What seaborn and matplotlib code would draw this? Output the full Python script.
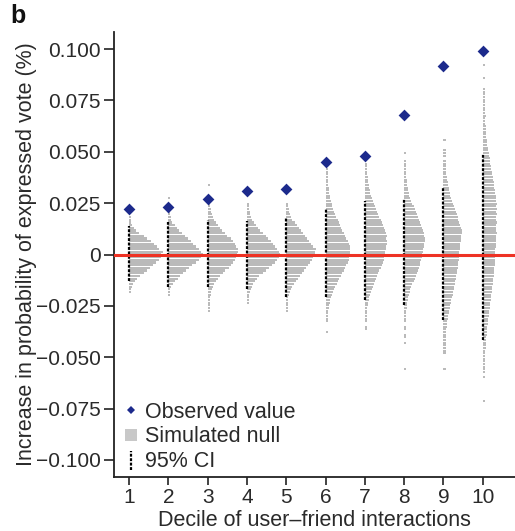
import numpy as np
import matplotlib
matplotlib.use("Agg")
import matplotlib.pyplot as plt
from matplotlib.lines import Line2D
from matplotlib.legend_handler import HandlerBase
import seaborn as sns

# ---------------- data ----------------
deciles = [1, 2, 3, 4, 5, 6, 7, 8, 9, 10]
observed = [0.022, 0.023, 0.027, 0.031, 0.032, 0.045, 0.048, 0.068, 0.092, 0.099]
ci_low = [-0.013, -0.0156, -0.016, -0.017, -0.0205, -0.0205, -0.022, -0.0245, -0.0317, -0.0414]
ci_high = [0.0137, 0.016, 0.0166, 0.0165, 0.0185, 0.022, 0.026, 0.027, 0.033, 0.0487]

null_bin = 0.0013
# histogram of simulated null: top bin centre and counts from top to bottom
null_top = [14 * 0.0013, 21 * 0.0013, 26 * 0.0013, 19 * 0.0013, 19 * 0.0013,
            33 * 0.0013, 34 * 0.0013, 38 * 0.0013, 43 * 0.0013, 71 * 0.0013]
null_d1 = [1, 1, 1, 2, 4, 6, 9, 13, 16, 20, 23, 26, 28, 31, 30,
           30, 28, 25, 22, 19, 16, 13, 10, 7, 5, 3, 2, 1, 1]
null_d2 = [1, 0, 0, 1, 1, 1, 1, 2, 2, 3, 5, 7, 9, 12, 15, 18, 21, 23, 25, 28, 30, 32,
           30, 28, 25, 22, 19, 16, 13, 10, 8, 5, 4, 2, 1, 1, 1]
null_d3 = [1, 0, 0, 0, 0, 1, 1, 1, 1, 2, 2, 3, 4, 5, 7, 9, 11, 13, 16, 18, 21, 23, 25, 26, 28, 28, 27,
           26, 25, 23, 21, 19, 16, 14, 11, 9, 7, 5, 4, 3, 2, 2, 1, 1, 1, 1, 1, 1]
null_d4 = [1, 1, 1, 2, 2, 3, 4, 6, 8, 10, 12, 14, 17, 19, 22, 24, 26, 28, 30, 31,
           30, 28, 26, 23, 20, 17, 14, 11, 9, 7, 5, 4, 3, 2, 1, 1, 1, 1]
null_d5 = [1, 1, 2, 2, 3, 4, 5, 7, 9, 11, 13, 15, 17, 19, 21, 23, 25, 27, 26, 26,
           25, 24, 22, 20, 18, 16, 14, 12, 10, 8, 6, 5, 4, 3, 2, 1, 1, 1, 1, 1, 1]
null_d6 = [1, 1, 1, 1, 1, 1, 1, 1, 2, 2, 2, 3, 3, 4, 5, 5, 6, 7, 8, 9, 11, 12, 13, 14, 15, 17, 18,
           19, 20, 21, 22, 22, 22, 22,
           21, 21, 20, 19, 18, 17, 15, 14, 12, 11, 10, 8, 7, 6, 5, 4, 3, 3, 2, 2, 1, 1, 1, 1, 1,
           0, 0, 0, 1]
null_d7 = [1, 1, 1, 1, 1, 2, 2, 2, 3, 3, 4, 4, 5, 6, 7, 8, 9, 10, 11, 12, 13, 14, 15, 16, 17, 18,
           19, 20, 19, 20, 20, 19, 19, 18, 18,
           17, 17, 16, 15, 14, 13, 12, 11, 10, 9, 8, 7, 6, 5, 4, 3, 3, 2, 2, 1, 1, 1, 1, 1, 1, 0, 1, 1]
null_d8 = [1, 0, 0, 1, 1, 1, 1, 1, 1, 1, 2, 2, 2, 3, 3, 4, 4, 5, 6, 7, 8, 9, 10, 11, 12, 13, 14,
           15, 16, 17, 18, 18, 19, 19, 18, 18, 17, 17, 16,
           16, 15, 14, 14, 13, 12, 11, 10, 9, 8, 7, 6, 5, 5, 4, 3, 3, 2, 2, 2, 1, 1, 1, 1, 1, 0,
           1, 1, 0, 1, 1, 0, 1, 0, 0, 0, 0, 0, 0, 0, 0, 0, 1]
null_d9 = [1, 0, 0, 0, 1, 1, 1, 0, 1, 1, 1, 1, 1, 1, 2, 2, 3, 3, 4, 4, 5, 5, 6, 7, 8, 9, 10, 11,
           12, 13, 13, 14, 15, 16, 17, 17, 16, 16, 16, 15, 15, 15, 14, 14,
           14, 14, 13, 13, 13, 12, 12, 11, 11, 10, 10, 9, 9, 8, 8, 7, 6, 6, 5, 5, 4, 4, 3, 3,
           2, 2, 2, 1, 1, 1, 1, 1, 1, 1, 1, 1, 1, 0, 0, 0, 0, 0, 1]
null_d10 = [1, 0, 0, 0, 0, 1, 0, 0, 0, 1, 1, 1, 1, 1, 1, 1, 1, 1, 1,
            2, 1, 1, 1, 2, 2, 2, 2, 2, 3, 3, 3, 4, 4, 5, 5, 6, 6, 6, 7, 7, 8, 8, 9, 9, 10, 10, 10,
            11, 11, 12, 12, 12,
            13, 12, 13, 12, 13, 12, 12, 13, 12, 12, 12, 13, 12, 12, 12, 12, 12, 11, 11, 11,
            11, 11, 11, 11, 10, 10, 10, 10, 9, 9, 9, 8, 8, 8, 7, 7, 7, 6, 6, 6, 5, 5, 5, 4, 4, 4,
            3, 3, 3, 3, 2, 2, 2, 2, 2, 1, 1, 1, 1, 1, 1, 1, 1, 1, 0, 1, 0, 0, 0, 0, 0, 0, 0, 0, 1]
null_counts = [null_d1, null_d2, null_d3, null_d4, null_d5,
               null_d6, null_d7, null_d8, null_d9, null_d10]

xtick_labels = ["1", "2", "3", "4", "5", "6", "7", "8", "9", "10"]
ytick_values = [-0.100, -0.075, -0.050, -0.025, 0, 0.025, 0.050, 0.075, 0.100]
ytick_labels = ["\u22120.100", "\u22120.075", "\u22120.050", "\u22120.025", "0",
                "0.025", "0.050", "0.075", "0.100"]

# ---------------- style ----------------
sns.set_theme(style="ticks")
plt.rcParams["font.family"] = ["Liberation Sans", "DejaVu Sans"]
FS_TICK = 15
FS_LAB = 15.5
TXT = "#2a2a2a"
GRAY = "#bababa"
BLUE = "#1c2a8c"
RED = "#ee3224"
DASH = (0, (1.3, 0.7))

fig = plt.figure(figsize=(5.15, 5.31), dpi=100)
ax = fig.add_axes([0.2214, 0.1017, 0.7786, 0.838])

px = 1.0 / 39.3            # x-units per pixel
count_scale = 1.05 * px    # x-units per count
dot_extra = 1.0 * px       # minimum visible width of a non-empty bin

for d, top, counts in zip(deciles, null_top, null_counts):
    counts = np.asarray(counts, dtype=float)
    ys = top - np.arange(len(counts)) * null_bin
    widths = np.where(counts > 0, counts * count_scale + dot_extra, 0.0)
    ax.barh(ys, widths, left=d, height=null_bin * 0.78,
            color=GRAY, linewidth=0, zorder=1)

ax.vlines(deciles, ci_low, ci_high, colors="black", linewidth=1.6,
          linestyles=[DASH], zorder=3)

ax.axhline(0, color=RED, linewidth=2.2, zorder=4)

sns.scatterplot(x=deciles, y=observed, marker="D", color=BLUE, s=36,
                linewidth=0, ax=ax, zorder=5, legend=False)

ax.set_xlim(0.62, 10.82)
ax.set_ylim(-0.1083, 0.1083)
ax.set_xticks(deciles)
ax.set_xticklabels(xtick_labels)
ax.set_yticks(ytick_values)
ax.set_yticklabels(ytick_labels)
ax.tick_params(axis="both", direction="out", width=1.2,
               labelsize=FS_TICK, colors="#222222", labelcolor=TXT, pad=2)
ax.tick_params(axis="y", length=7.5)
ax.tick_params(axis="x", length=6)
for s in ["top", "right"]:
    ax.spines[s].set_visible(False)
for s in ["left", "bottom"]:
    ax.spines[s].set_linewidth(1.3)
    ax.spines[s].set_color("#222222")

ax.set_xlabel("Decile of user\u2013friend interactions", fontsize=FS_LAB, color=TXT, labelpad=2)
ax.set_ylabel("Increase in probability of expressed vote (%)", fontsize=FS_LAB, color=TXT,
              labelpad=-1)

fig.text(10 / 515, 1 - 16 / 531, "b", fontsize=18, fontweight="bold", color="#111111",
         ha="left", va="center")


class HandlerCI(HandlerBase):
    def create_artists(self, legend, orig_handle, xdescent, ydescent, width, height,
                       fontsize, trans):
        xc = width / 2 - xdescent
        line = Line2D([xc, xc], [-0.2 * height - ydescent, 1.05 * height - ydescent],
                      color="black", linewidth=1.6, linestyle=DASH, transform=trans)
        return [line]


h_obs = Line2D([], [], marker="D", color=BLUE, linestyle="none", markersize=4.5,
               markeredgewidth=0)
h_null = Line2D([], [], marker="s", color="#c8c8c8", linestyle="none", markersize=8,
                markeredgewidth=0)
h_ci = Line2D([], [], color="black")
leg = ax.legend([h_obs, h_null, h_ci], ["Observed value", "Simulated null", "95% CI"],
                handler_map={h_ci: HandlerCI()}, loc="lower left",
                bbox_to_anchor=(-0.005, -0.013), frameon=False, fontsize=FS_LAB,
                handlelength=0.8, handletextpad=0.25, labelspacing=0.17,
                borderaxespad=0.3, borderpad=0.2)
for t in leg.get_texts():
    t.set_color(TXT)

fig.savefig("out.png", dpi=100)
